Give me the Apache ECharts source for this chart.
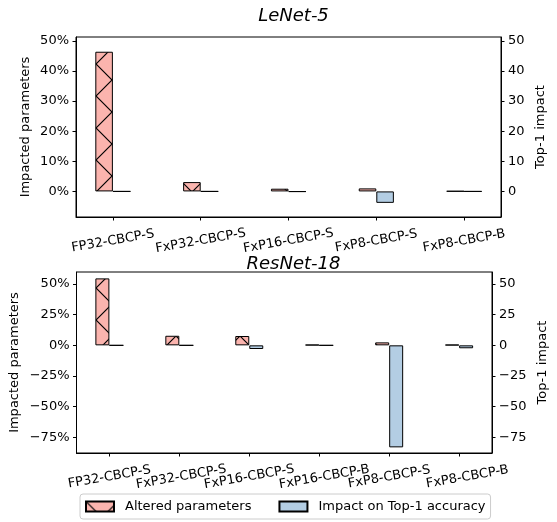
<!DOCTYPE html>
<html>
<head>
<meta charset="utf-8">
<script src="https://cdn.jsdelivr.net/npm/echarts@6/dist/echarts.min.js"></script>
<style>html,body{margin:0;padding:0;background:#fff}#c{width:557px;height:522px}</style>
</head>
<body>
<div id="c"></div>
<script>
const lenetCats = ['FP32-CBCP-S','FxP32-CBCP-S','FxP16-CBCP-S','FxP8-CBCP-S','FxP8-CBCP-B'];
const lenetAltered = [46.4, 3.1, 0.9, 1.0, 0.1];
const lenetImpact = [0, 0, -0.1, -3.8, 0];
const resnetCats = ['FP32-CBCP-S','FxP32-CBCP-S','FxP16-CBCP-S','FxP16-CBCP-B','FxP8-CBCP-S','FxP8-CBCP-B'];
const resnetAltered = [54.6, 7.8, 7.6, 0.5, 2.4, 0.5];
const resnetImpact = [0, 0, -3.0, 0, -83.2, -2.4];
const lenetTicks = [0, 10, 20, 30, 40, 50];
const resnetTicks = [-75, -50, -25, 0, 25, 50];

const FONT = 'DejaVu Sans';
const PINK = '#fbb4ae', BLUE = '#b3cde3';

function makeHatch() {
  const c = document.createElement('canvas');
  c.width = 32; c.height = 32;
  const g = c.getContext('2d');
  g.fillStyle = PINK; g.fillRect(0, 0, 32, 32);
  g.strokeStyle = '#000'; g.lineWidth = 1.2;
  g.beginPath();
  g.moveTo(-2, -2); g.lineTo(34, 34);
  g.moveTo(34, -2); g.lineTo(-2, 34);
  g.stroke();
  return c;
}
const hatch = { image: makeHatch(), repeat: 'repeat' };

function fmtNum(v) { return (v < 0 ? '\u2212' + Math.abs(v) : String(v)); }
const idx = arr => arr.map((_, i) => i);

const chart = echarts.init(document.getElementById('c'), null, { renderer: 'canvas' });

const lineStyle = { show: true, onZero: false, lineStyle: { color: '#000', width: 1 } };

function xAx(gi, cats, min, max, margin, labelIdx, showLineTick) {
  return {
    type: 'value', gridIndex: gi, min: min, max: max, position: 'bottom',
    axisLine: Object.assign({}, lineStyle, { show: showLineTick }), splitLine: { show: false },
    axisTick: { show: showLineTick, length: 3.5, lineStyle: { color: '#000' }, customValues: idx(cats) },
    axisLabel: { color: '#000', fontSize: 13, fontFamily: FONT, rotate: 10, align: 'center', verticalAlign: 'middle', margin: margin,
      hideOverlap: false, showMinLabel: true, showMaxLabel: true,
      customValues: labelIdx, formatter: v => cats[Math.round(v)] }
  };
}
function yAx(gi, ticks, min, max, pos, name, gap, pct, show) {
  return {
    show: show !== false,
    type: 'value', gridIndex: gi, min: min, max: max, position: pos,
    name: name, nameLocation: 'middle', nameGap: gap, nameMoveOverlap: false,
    nameTextStyle: { color: '#000', fontSize: 13, fontFamily: FONT },
    axisLine: lineStyle, splitLine: { show: false },
    axisTick: { show: true, length: 3.5, lineStyle: { color: '#000' }, customValues: ticks },
    axisLabel: { color: '#000', fontSize: 13, fontFamily: FONT, margin: 7, customValues: ticks,
      formatter: v => fmtNum(v) + (pct ? '%' : '') }
  };
}
function bar(name, xi, yi, vals, color, bw) {
  return {
    type: 'bar', name: name, xAxisIndex: xi, yAxisIndex: yi,
    data: vals.map((v, i) => [i, v]),
    barWidth: bw, barGap: '0%',
    itemStyle: { color: color, borderColor: '#000', borderWidth: 1 },
    emphasis: { disabled: true }
  };
}

const resEven = idx(resnetCats).filter(i => i % 2 === 0);
const resOdd = idx(resnetCats).filter(i => i % 2 === 1);

const option = {
  animation: false,
  backgroundColor: '#fff',
  title: [
    { text: 'LeNet-5', left: 288.5, top: 2, textAlign: 'center',
      textStyle: { fontStyle: 'italic', fontWeight: 'normal', fontSize: 18, fontFamily: FONT, color: '#000' } },
    { text: 'ResNet-18', left: 288.5, top: 250, textAlign: 'center',
      textStyle: { fontStyle: 'italic', fontWeight: 'normal', fontSize: 18, fontFamily: FONT, color: '#000' } }
  ],
  grid: [
    { left: 76, right: 56, top: 37, height: 180, show: true, borderColor: '#000', borderWidth: 1, backgroundColor: 'transparent' },
    { left: 76, right: 56, top: 272, height: 181, show: true, borderColor: '#000', borderWidth: 1, backgroundColor: 'transparent' },
    { left: 76, right: 56, top: 272, height: 181, show: false }
  ],
  xAxis: [
    xAx(0, lenetCats, -0.42, 4.42, 24, idx(lenetCats), true),
    xAx(1, resnetCats, -0.47, 5.47, 24, resEven, true),
    xAx(2, resnetCats, -0.47, 5.47, 24, resOdd, false)
  ],
  yAxis: [
    yAx(0, lenetTicks, -8.5, 51.3, 'left', 'Impacted parameters', 43.5, true),
    yAx(0, lenetTicks, -8.5, 51.3, 'right', 'Top-1 impact', 33.5, false),
    yAx(1, resnetTicks, -87.8, 59.8, 'left', 'Impacted parameters', 55.5, true),
    yAx(1, resnetTicks, -87.8, 59.8, 'right', 'Top-1 impact', 44, false),
    yAx(2, resnetTicks, -87.8, 59.8, 'left', '', 0, false, false)
  ],
  legend: {
    left: 80, top: 494, itemWidth: 28, itemHeight: 10, itemGap: 27, icon: 'rect',
    padding: [6, 5, 6, 5], borderColor: '#ccc', borderWidth: 1, borderRadius: 3,
    backgroundColor: '#fff',
    textStyle: { color: '#000', fontSize: 13, fontFamily: FONT, padding: [0, 0, 0, 6] },
    data: ['Altered parameters', 'Impact on Top-1 accuracy']
  },
  series: [
    bar('Altered parameters', 0, 0, lenetAltered, hatch, '20%'),
    bar('Impact on Top-1 accuracy', 0, 1, lenetImpact, BLUE, '20%'),
    bar('Altered parameters', 1, 2, resnetAltered, hatch, '20%'),
    bar('Impact on Top-1 accuracy', 1, 3, resnetImpact, BLUE, '20%')
  ]
};
chart.setOption(option);
</script>
</body>
</html>
